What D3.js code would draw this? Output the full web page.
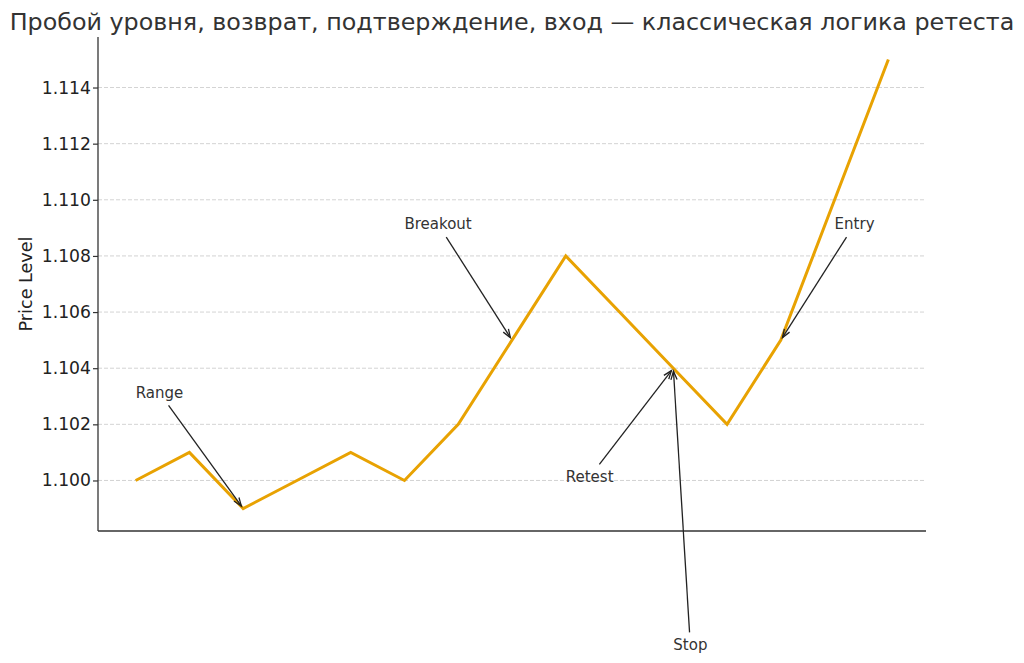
<!DOCTYPE html>
<html>
<head>
<meta charset="utf-8">
<script src="https://cdn.jsdelivr.net/npm/d3@7"></script>
<style>
  body { margin: 0; background: #fff; }
  svg { display: block; font-family: "DejaVu Sans", sans-serif; }
</style>
</head>
<body>
<div id="chart"></div>
<script>
// price path (x = bar index)
const steps = [0, 1, 2, 3, 4, 5, 6, 7, 8, 9, 10, 11, 12, 13, 14]
const prices = [1.100, 1.101, 1.099, 1.100, 1.101, 1.100, 1.102, 1.105, 1.108, 1.106, 1.104, 1.102, 1.105, 1.110, 1.115]

// y tick labels
const yTicks = [1.100, 1.102, 1.104, 1.106, 1.108, 1.110, 1.112, 1.114]

// annotations: label, text anchor and arrow target in data units
const annLabels = ["Range", "Breakout", "Retest", "Stop", "Entry"]
const annTextX = [0, 5, 8, 10, 13]
const annTextY = [1.103, 1.109, 1.100, 1.094, 1.109]
const annTargetX = [2, 7, 10, 10, 12]
const annTargetY = [1.099, 1.105, 1.104, 1.104, 1.105]

const W = 1024, H = 663
const margin = { top: 37, right: 98, bottom: 132, left: 98 }

const svg = d3.select("#chart").append("svg")
    .attr("width", W)
    .attr("height", H)

const x = d3.scaleLinear()
    .domain([-0.7, 14.7])
    .range([margin.left, W - margin.right])

const y = d3.scaleLinear()
    .domain([1.0982, 1.1158])
    .range([H - margin.bottom, margin.top])

// title
svg.append("text")
    .attr("x", (margin.left + W - margin.right) / 2)
    .attr("y", 30)
    .attr("text-anchor", "middle")
    .style("font-size", "23.8px")
    .style("fill", "#333")
    .text("Пробой уровня, возврат, подтверждение, вход — классическая логика ретеста")

// horizontal grid
svg.append("g")
    .selectAll("line")
    .data(yTicks)
    .enter()
    .append("line")
        .attr("x1", margin.left)
        .attr("x2", W - margin.right)
        .attr("y1", d => y(d))
        .attr("y2", d => y(d))
        .attr("stroke", "#c8c8c8")
        .attr("stroke-width", 0.8)
        .attr("stroke-dasharray", "4,2")

// y axis
const yAxis = svg.append("g")
    .attr("transform", "translate(" + margin.left + ",0)")
    .call(d3.axisLeft(y).tickValues(yTicks).tickFormat(d3.format(".3f")).tickSizeOuter(0).tickSize(5).tickPadding(2))
yAxis.select(".domain").remove()
yAxis.selectAll(".tick line").attr("stroke", "#333").attr("stroke-width", 1.2)
yAxis.selectAll(".tick text")
    .style("font-size", "17.2px")
    .style("font-family", "DejaVu Sans, sans-serif")
    .style("fill", "#222")

// spines
svg.append("line")
    .attr("x1", margin.left).attr("x2", margin.left)
    .attr("y1", margin.top).attr("y2", H - margin.bottom)
    .attr("stroke", "#333").attr("stroke-width", 1.3)
svg.append("line")
    .attr("x1", margin.left).attr("x2", W - margin.right)
    .attr("y1", H - margin.bottom).attr("y2", H - margin.bottom)
    .attr("stroke", "#333").attr("stroke-width", 1.3)

// y label
svg.append("text")
    .attr("transform", "translate(32," + ((margin.top + H - margin.bottom) / 2) + ") rotate(-90)")
    .attr("text-anchor", "middle")
    .style("font-size", "17.6px")
    .style("fill", "#222")
    .text("Price Level")

// price line
const line = d3.line()
    .x((d, i) => x(steps[i]))
    .y(d => y(d))

svg.append("path")
    .datum(prices)
    .attr("d", line)
    .attr("fill", "none")
    .attr("stroke", "#e8a202")
    .attr("stroke-width", 3)
    .attr("stroke-linejoin", "miter")

// annotations
const annG = svg.append("g")
annLabels.forEach(function(label, i) {
    const t = annG.append("text")
        .attr("x", x(annTextX[i]))
        .attr("y", y(annTextY[i]) + 1.5)
        .style("font-size", "15px")
        .style("fill", "#333")
        .text(label)

    const bb = t.node().getBBox()
    const pad = 2
    const bx0 = bb.x - pad, bx1 = bb.x + bb.width + pad
    const by0 = bb.y - pad, by1 = bb.y + bb.height + pad
    const cx = (bx0 + bx1) / 2, cy = (by0 + by1) / 2
    const tx = x(annTargetX[i]), ty = y(annTargetY[i])
    const dx = tx - cx, dy = ty - cy

    // where the line from text centre leaves the text box
    let tEdge = Infinity
    if (dx !== 0) tEdge = Math.min(tEdge, ((dx > 0 ? bx1 : bx0) - cx) / dx)
    if (dy !== 0) tEdge = Math.min(tEdge, ((dy > 0 ? by1 : by0) - cy) / dy)
    const len = Math.sqrt(dx * dx + dy * dy)
    const ux = dx / len, uy = dy / len
    const sx = cx + dx * tEdge + ux * 2
    const sy = cy + dy * tEdge + uy * 2
    const ex = tx - ux * 3
    const ey = ty - uy * 3

    annG.append("line")
        .attr("x1", sx).attr("y1", sy)
        .attr("x2", ex).attr("y2", ey)
        .attr("stroke", "#222")
        .attr("stroke-width", 1.3)

    // open arrow head
    const headLen = 9, ang = Math.PI / 9
    const a = Math.atan2(uy, ux)
    const p1 = [ex - headLen * Math.cos(a - ang), ey - headLen * Math.sin(a - ang)]
    const p2 = [ex - headLen * Math.cos(a + ang), ey - headLen * Math.sin(a + ang)]
    annG.append("path")
        .attr("d", "M" + p1[0] + "," + p1[1] + "L" + ex + "," + ey + "L" + p2[0] + "," + p2[1])
        .attr("fill", "none")
        .attr("stroke", "#222")
        .attr("stroke-width", 1.3)
})
</script>
</body>
</html>
